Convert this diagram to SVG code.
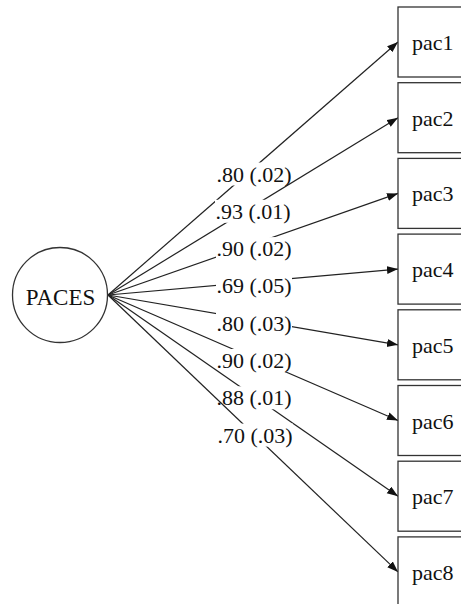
<svg xmlns="http://www.w3.org/2000/svg" width="461" height="604" viewBox="0 0 461 604">
<style>
.bg{fill:#fff}
.node{fill:#fff;stroke:#333;stroke-width:1.3}
.ntxt{font-family:"Liberation Serif","Times New Roman",serif;font-size:22px;fill:#111}
.edge{fill:none;stroke:#222;stroke-width:1.2}
.lbl{fill:#fff}
.ltxt{font-family:"Liberation Serif","Times New Roman",serif;font-size:22px;fill:#111;text-anchor:middle}
</style>
<defs>
<marker id="arr" markerUnits="userSpaceOnUse" markerWidth="12" markerHeight="9" refX="11" refY="4" orient="auto">
<path d="M0,0 L11,4 L0,8 z" fill="#111"/>
</marker>
</defs>
<rect class="bg" x="0" y="0" width="461" height="604"/>
<g id="connectors">
<g id="e1"><path class="edge" d="M108,295 L398,42" marker-end="url(#arr)"/><rect class="lbl" x="216" y="162.5" width="76" height="23"/><text class="ltxt" x="254" y="181.5">.80 (.02)</text></g>
<g id="e2"><path class="edge" d="M108,295 L398,117.7" marker-end="url(#arr)"/><rect class="lbl" x="215" y="199.8" width="76" height="23"/><text class="ltxt" x="253" y="218.8">.93 (.01)</text></g>
<g id="e3"><path class="edge" d="M108,295 L398,193.4" marker-end="url(#arr)"/><rect class="lbl" x="216" y="237.1" width="76" height="23"/><text class="ltxt" x="254" y="256.1">.90 (.02)</text></g>
<g id="e4"><path class="edge" d="M108,295 L398,269.1" marker-end="url(#arr)"/><rect class="lbl" x="216" y="274.4" width="76" height="23"/><text class="ltxt" x="254" y="293.4">.69 (.05)</text></g>
<g id="e5"><path class="edge" d="M108,295 L398,344.8" marker-end="url(#arr)"/><rect class="lbl" x="216" y="311.7" width="76" height="23"/><text class="ltxt" x="254" y="330.7">.80 (.03)</text></g>
<g id="e6"><path class="edge" d="M108,295 L398,420.5" marker-end="url(#arr)"/><rect class="lbl" x="216" y="349" width="76" height="23"/><text class="ltxt" x="254" y="368">.90 (.02)</text></g>
<g id="e7"><path class="edge" d="M108,295 L398,496.2" marker-end="url(#arr)"/><rect class="lbl" x="216" y="386.3" width="76" height="23"/><text class="ltxt" x="254" y="405.3">.88 (.01)</text></g>
<g id="e8"><path class="edge" d="M108,295 L398,571.9" marker-end="url(#arr)"/><rect class="lbl" x="217" y="423.6" width="76" height="23"/><text class="ltxt" x="255" y="442.6">.70 (.03)</text></g>
</g>
<g id="PACES"><circle class="node" cx="60" cy="295" r="47.5"/><text class="ntxt" x="60.5" y="305" text-anchor="middle" style="font-size:23px">PACES</text></g>
<g id="pac1"><rect class="node" x="398" y="7" width="80" height="70"/><text class="ntxt" x="412" y="50">pac1</text></g>
<g id="pac2"><rect class="node" x="398" y="82.7" width="80" height="70"/><text class="ntxt" x="412" y="125.7">pac2</text></g>
<g id="pac3"><rect class="node" x="398" y="158.4" width="80" height="70"/><text class="ntxt" x="412" y="201.4">pac3</text></g>
<g id="pac4"><rect class="node" x="398" y="234.1" width="80" height="70"/><text class="ntxt" x="412" y="277.1">pac4</text></g>
<g id="pac5"><rect class="node" x="398" y="309.8" width="80" height="70"/><text class="ntxt" x="412" y="352.8">pac5</text></g>
<g id="pac6"><rect class="node" x="398" y="385.5" width="80" height="70"/><text class="ntxt" x="412" y="428.5">pac6</text></g>
<g id="pac7"><rect class="node" x="398" y="461.2" width="80" height="70"/><text class="ntxt" x="412" y="504.2">pac7</text></g>
<g id="pac8"><rect class="node" x="398" y="536.9" width="80" height="70"/><text class="ntxt" x="412" y="579.9">pac8</text></g>
</svg>
